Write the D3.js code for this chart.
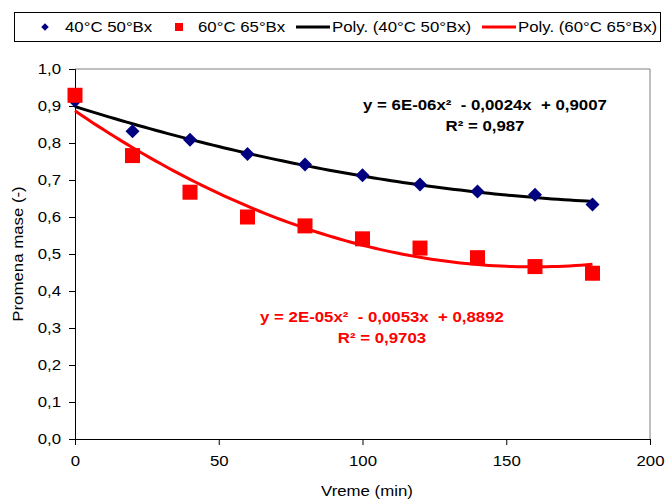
<!DOCTYPE html>
<html>
<head>
<meta charset="utf-8">
<script src="https://cdn.jsdelivr.net/npm/d3@7"></script>
<style>
  html, body { margin: 0; padding: 0; background: #fff; }
  svg { display: block; font-family: "Liberation Sans", Arial, sans-serif; }
  .eq { white-space: pre; }
</style>
</head>
<body>
<svg id="chart" width="665" height="501"></svg>
<script>
// Sampling times (min)
const times = [0, 20, 40, 60, 80, 100, 120, 140, 160, 180];
// Relative mass change at 40°C, 50°Bx
const series40 = [0.914, 0.832, 0.809, 0.770, 0.742, 0.713, 0.688, 0.669, 0.660, 0.634];
// Relative mass change at 60°C, 65°Bx
const series60 = [0.929, 0.766, 0.667, 0.600, 0.576, 0.541, 0.516, 0.490, 0.466, 0.448];

const seriesNames = ["40°C 50°Bx", "60°C 65°Bx"];
const trendNames = ["Poly. (40°C 50°Bx)", "Poly. (60°C 65°Bx)"];
const equations40 = ["y = 6E-06x\u00B2  - 0,0024x  + 0,9007", "R\u00B2 = 0,987"];
const equations60 = ["y = 2E-05x\u00B2  - 0,0053x  + 0,8892", "R\u00B2 = 0,9703"];

const xTicks = [0, 50, 100, 150, 200];
const yTicks = [0, 0.1, 0.2, 0.3, 0.4, 0.5, 0.6, 0.7, 0.8, 0.9, 1.0];

const svg = d3.select("#chart");
const plot = { left: 75, right: 650, top: 69, bottom: 439 };

const x = d3.scaleLinear().domain([0, 200]).range([plot.left, plot.right]);
const y = d3.scaleLinear().domain([0, 1]).range([plot.bottom, plot.top]);

// Least-squares quadratic trendline
function quadFit(xs, ys) {
  const s = Array(5).fill(0), t = Array(3).fill(0);
  xs.forEach((xv, i) => {
    for (let k = 0; k < 5; k++) s[k] += Math.pow(xv, k);
    for (let k = 0; k < 3; k++) t[k] += Math.pow(xv, k) * ys[i];
  });
  const A = [[s[0], s[1], s[2], t[0]], [s[1], s[2], s[3], t[1]], [s[2], s[3], s[4], t[2]]];
  for (let i = 0; i < 3; i++) {
    let p = i;
    for (let r = i + 1; r < 3; r++) if (Math.abs(A[r][i]) > Math.abs(A[p][i])) p = r;
    [A[i], A[p]] = [A[p], A[i]];
    for (let r = 0; r < 3; r++) {
      if (r === i) continue;
      const f = A[r][i] / A[i][i];
      for (let c = i; c < 4; c++) A[r][c] -= f * A[i][c];
    }
  }
  const c = [A[0][3] / A[0][0], A[1][3] / A[1][1], A[2][3] / A[2][2]];
  return v => c[0] + c[1] * v + c[2] * v * v;
}

// Plot frame (top and right)
svg.append("path")
  .attr("d", `M${plot.left},${plot.top}H${plot.right}V${plot.bottom}`)
  .attr("fill", "none").attr("stroke", "#808080").attr("stroke-width", 1);

// Axes
const fmt = d3.format(".1f");
const yAxis = svg.append("g")
  .attr("transform", `translate(${plot.left},0)`)
  .call(d3.axisLeft(y).tickValues(yTicks).tickSize(6).tickPadding(8)
    .tickFormat(d => fmt(d).replace(".", ",")));
const xAxis = svg.append("g")
  .attr("transform", `translate(0,${plot.bottom})`)
  .call(d3.axisBottom(x).tickValues(xTicks).tickSize(6).tickPadding(11));
[yAxis, xAxis].forEach(g => {
  g.select(".domain").attr("stroke", "#000");
  g.selectAll(".tick line").attr("stroke", "#000");
  g.selectAll("text").attr("font-size", 14).attr("fill", "#000")
    .attr("font-family", "Liberation Sans, Arial, sans-serif");
});

// Axis titles
svg.append("text")
  .attr("transform", `translate(23,${(plot.top + plot.bottom) / 2}) rotate(-90)`)
  .attr("text-anchor", "middle").attr("font-size", 14).text("Promena mase (-)");
svg.append("text")
  .attr("x", 367).attr("y", 496)
  .attr("text-anchor", "middle").attr("font-size", 14).text("Vreme (min)");

// Trendlines
const fit40 = quadFit(times, series40);
const fit60 = quadFit(times, series60);
const samples = d3.range(0, 180.01, 2);
const line = f => d3.line().x(v => x(v)).y(v => y(f(v)))(samples);
svg.append("path").attr("d", line(fit40)).attr("fill", "none")
  .attr("stroke", "#000").attr("stroke-width", 3);
svg.append("path").attr("d", line(fit60)).attr("fill", "none")
  .attr("stroke", "#ff0000").attr("stroke-width", 3);

// Markers
const diamond = d3.symbol().type(d3.symbolSquare).size(98);
svg.append("g").selectAll("path").data(times).join("path")
  .attr("d", diamond())
  .attr("transform", (d, i) => `translate(${x(d)},${y(series40[i])}) rotate(45)`)
  .attr("fill", "#000080");
const sq = 15;
svg.append("g").selectAll("rect").data(times).join("rect")
  .attr("x", d => x(d) - sq / 2)
  .attr("y", (d, i) => y(series60[i]) - sq / 2)
  .attr("width", sq).attr("height", sq)
  .attr("fill", "#ff0000");

// Trendline equations
function eqBlock(lines, cx, cy, color) {
  svg.append("g").selectAll("text").data(lines).join("text")
    .attr("class", "eq")
    .attr("x", cx).attr("y", (d, i) => cy + i * 21)
    .attr("text-anchor", "middle")
    .attr("font-size", 14).attr("font-weight", "bold")
    .attr("fill", color).text(d => d);
}
eqBlock(equations40, 485, 110, "#000");
eqBlock(equations60, 382, 322, "#ff0000");

// Legend
svg.append("rect").attr("x", 14.5).attr("y", 12.5).attr("width", 646).attr("height", 29)
  .attr("fill", "#fff").attr("stroke", "#000").attr("stroke-width", 1);
const ly = 27;
const leg = svg.append("g").attr("font-size", 14);
leg.append("path").attr("d", d3.symbol().type(d3.symbolSquare).size(28)())
  .attr("transform", `translate(45,${ly}) rotate(45)`).attr("fill", "#000080");
leg.append("text").attr("x", 65).attr("y", ly + 5).text(seriesNames[0]);
leg.append("rect").attr("x", 175).attr("y", ly - 4).attr("width", 8).attr("height", 8).attr("fill", "#ff0000");
leg.append("text").attr("x", 198).attr("y", ly + 5).text(seriesNames[1]);
leg.append("line").attr("x1", 296).attr("x2", 330).attr("y1", ly).attr("y2", ly)
  .attr("stroke", "#000").attr("stroke-width", 3);
leg.append("text").attr("x", 332).attr("y", ly + 5).text(trendNames[0]);
leg.append("line").attr("x1", 482).attr("x2", 516).attr("y1", ly).attr("y2", ly)
  .attr("stroke", "#ff0000").attr("stroke-width", 3);
leg.append("text").attr("x", 518).attr("y", ly + 5).text(trendNames[1]);

// The chart's typeface is set wide: stretch every label horizontally
svg.selectAll("text").each(function () {
  const w = this.getComputedTextLength();
  if (w > 0) {
    d3.select(this).attr("textLength", w * 1.2).attr("lengthAdjust", "spacingAndGlyphs");
  }
});
</script>
</body>
</html>
